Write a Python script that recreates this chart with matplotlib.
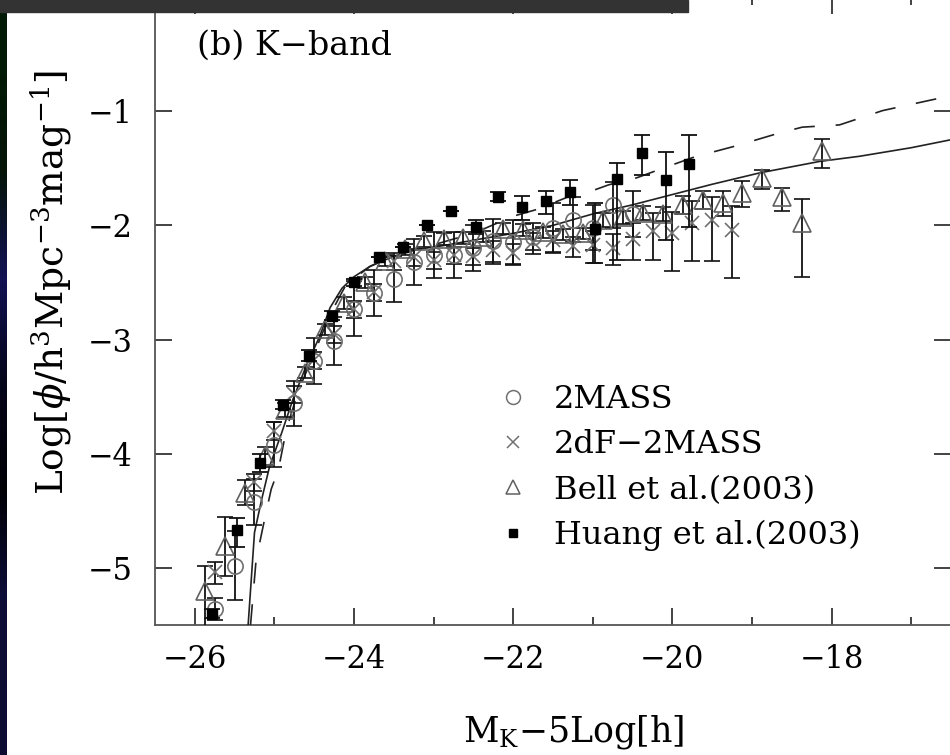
import numpy as np
import matplotlib
matplotlib.use('Agg')
import matplotlib.pyplot as plt
from matplotlib.lines import Line2D
from matplotlib.patches import Rectangle
from matplotlib.ticker import MultipleLocator, FixedLocator

plt.rcParams['font.family'] = ['DejaVu Serif']
plt.rcParams['mathtext.fontset'] = 'dejavuserif'
plt.rcParams['lines.scale_dashes'] = False

# model curves
solid_x = [-25.33, -25.25, -25.16, -25.06, -24.91, -24.77, -24.60, -24.43, -24.30, -24.15,
           -24.0, -23.8, -23.5, -23.2, -22.9, -22.5, -22.0, -21.5, -21.0, -20.5, -20.0,
           -19.5, -18.9, -18.15, -17.65, -17.0, -16.5]
solid_y = [-5.5, -4.69, -4.40, -4.11, -3.82, -3.53, -3.23, -2.97, -2.72, -2.55,
           -2.45, -2.36, -2.27, -2.21, -2.18, -2.13, -2.07, -2.0, -1.9, -1.82, -1.73,
           -1.64, -1.54, -1.44, -1.395, -1.32, -1.25]
dashed_x = [-25.30, -25.23, -25.14, -25.04, -24.95, -24.85, -24.7, -24.5, -24.3, -24.1,
            -23.8, -23.5, -23.0, -22.5, -22.0, -21.7, -21.29, -21.08, -20.8, -20.45,
            -20.16, -19.72, -19.18, -18.7, -18.37, -17.9, -17.36, -16.67, -16.5]
dashed_y = [-5.5, -4.93, -4.63, -4.31, -4.14, -3.79, -3.45, -3.12, -2.78, -2.52,
            -2.36, -2.26, -2.17, -2.07, -1.92, -1.86, -1.745, -1.715, -1.645, -1.584,
            -1.51, -1.40, -1.30, -1.20, -1.14, -1.12, -0.995, -0.89, -0.87]

# 2MASS (circles)
mass_x = [-25.75, -25.5, -25.25, -25.0, -24.75, -24.5, -24.25, -24.0, -23.75, -23.5, -23.25,
          -23.0, -22.75, -22.5, -22.25, -22.0, -21.75, -21.5, -21.25, -21.0, -20.75, -20.5]
mass_y = [-5.36, -4.98, -4.42, -3.92, -3.56, -3.19, -3.01, -2.73, -2.59, -2.47, -2.32,
          -2.26, -2.26, -2.20, -2.14, -2.15, -2.10, -2.02, -1.95, -2.02, -1.82, -1.90]
mass_e = [0.1, 0.3, 0.2, 0.2, 0.2, 0.2, 0.21, 0.24, 0.2, 0.2, 0.2,
          0.2, 0.2, 0.2, 0.2, 0.2, 0.12, 0.22, 0.2, 0.2, 0.2, 0.2]

# 2dF-2MASS (crosses)
tdf_x = [-25.75, -25.25, -25.0, -24.75, -24.5, -24.25, -24.0, -23.75, -23.5, -23.25, -23.0,
         -22.75, -22.5, -22.25, -22.0, -21.75, -21.5, -21.25, -21.0, -20.75, -20.5, -20.25,
         -20.0, -19.75, -19.5, -19.25]
tdf_y = [-5.04, -4.25, -3.80, -3.48, -3.18, -2.95, -2.73, -2.58, -2.31, -2.28, -2.30,
         -2.26, -2.27, -2.22, -2.24, -2.15, -2.13, -2.18, -2.17, -2.20, -2.12, -2.05,
         -2.07, -1.98, -1.95, -2.04]
tdf_lo = [0.1, 0.08, 0.08, 0.08, 0.08, 0.08, 0.08, 0.08, 0.08, 0.08, 0.08,
          0.08, 0.08, 0.1, 0.1, 0.1, 0.1, 0.1, 0.16, 0.15, 0.18, 0.25,
          0.33, 0.33, 0.36, 0.42]
tdf_hi = [0.09, 0.07, 0.08, 0.07, 0.07, 0.07, 0.07, 0.07, 0.07, 0.07, 0.07,
          0.07, 0.07, 0.08, 0.08, 0.08, 0.08, 0.08, 0.12, 0.12, 0.14, 0.16,
          0.19, 0.19, 0.2, 0.21]

# Bell et al. (triangles)
bell_x = [-25.87, -25.62, -25.37, -25.12, -24.87, -24.62, -24.37, -24.12, -23.86, -23.61,
          -23.36, -23.12, -22.87, -22.63, -22.38, -22.13, -21.88, -21.62, -21.37, -21.12,
          -20.87, -20.62, -20.37, -20.12, -19.87, -19.62, -19.37, -19.12, -18.87, -18.62,
          -18.37, -18.12]
bell_y = [-5.20, -4.81, -4.34, -4.02, -3.62, -3.29, -2.91, -2.68, -2.50, -2.31,
          -2.21, -2.14, -2.12, -2.11, -2.10, -2.03, -2.04, -2.06, -2.08, -2.07,
          -1.95, -1.93, -1.89, -1.90, -1.82, -1.78, -1.80, -1.715, -1.585, -1.75,
          -1.98, -1.35]
bell_lo = [0.4, 0.26, 0.11, 0.08, 0.06, 0.05, 0.05, 0.05, 0.05, 0.05,
           0.05, 0.05, 0.05, 0.05, 0.05, 0.05, 0.05, 0.05, 0.05, 0.05,
           0.06, 0.06, 0.06, 0.06, 0.08, 0.08, 0.12, 0.12, 0.1, 0.12,
           0.47, 0.15]
bell_hi = [0.22, 0.26, 0.11, 0.08, 0.06, 0.05, 0.05, 0.05, 0.05, 0.05,
           0.05, 0.05, 0.05, 0.05, 0.05, 0.05, 0.05, 0.05, 0.05, 0.05,
           0.06, 0.06, 0.06, 0.06, 0.08, 0.08, 0.1, 0.1, 0.07, 0.08,
           0.21, 0.11]

# Huang et al. (filled squares)
huang_x = [-25.79, -25.47, -25.18, -24.89, -24.56, -24.28, -24.0, -23.68, -23.38, -23.08,
           -22.78, -22.47, -22.19, -21.89, -21.59, -21.29, -20.97, -20.70, -20.38, -20.08,
           -19.79]
huang_y = [-5.40, -4.67, -4.08, -3.57, -3.14, -2.79, -2.50, -2.28, -2.19, -2.00,
           -1.87, -2.01, -1.75, -1.84, -1.79, -1.71, -2.03, -1.59, -1.365, -1.60,
           -1.46]
huang_lo = [0.04, 0.15, 0.08, 0.04, 0.05, 0.04, 0.03, 0.0, 0.0, 0.0,
            0.0, 0.07, 0.04, 0.11, 0.11, 0.11, 0.30, 0.71, 0.195, 0.53,
            0.55]
huang_hi = [0.04, 0.11, 0.08, 0.04, 0.05, 0.04, 0.03, 0.0, 0.0, 0.0,
            0.0, 0.06, 0.04, 0.095, 0.09, 0.11, 0.23, 0.14, 0.155, 0.24,
            0.25]

yticks = [-5, -4, -3, -2, -1]

fig = plt.figure(figsize=(9.5, 7.55), dpi=100)
ax = fig.add_axes([155 / 950, 130 / 755, 796 / 950, 628 / 755])

ax.plot(solid_x, solid_y, color='#222222', lw=1.2, zorder=3)
ax.plot(dashed_x, dashed_y, color='#222222', lw=1.2, dashes=(15, 15), zorder=3)

eb = dict(ecolor='#111111', elinewidth=1.3, capsize=5.5, capthick=1.3, ls='none')
ax.errorbar(mass_x, mass_y, yerr=mass_e, fmt='o', ms=11, mfc='none', mec='#707070',
            mew=1.2, zorder=4, **eb)
ax.errorbar(tdf_x, tdf_y, yerr=[tdf_lo, tdf_hi], fmt='x', ms=10, mec='#707070',
            mew=1.2, zorder=4, **eb)
ax.errorbar(bell_x, bell_y, yerr=[bell_lo, bell_hi], fmt='^', ms=12.5, mfc='none',
            mec='#606060', mew=1.2, zorder=4, **eb)
ax.errorbar(huang_x, huang_y, yerr=[huang_lo, huang_hi], fmt='s', ms=7, mfc='black',
            mec='black', zorder=5, **eb)

ax.set_xlim(-26.5, -16.5)
ax.set_ylim(-5.5, 0)
ax.xaxis.set_major_locator(MultipleLocator(2))
ax.xaxis.set_minor_locator(MultipleLocator(1))
ax.yaxis.set_major_locator(FixedLocator(yticks))
ax.tick_params(which='both', direction='in', top=True, right=True, color='#222222',
               width=1.2, labelsize=22)
ax.tick_params(which='major', length=12)
ax.tick_params(which='minor', length=6)
ax.tick_params(axis='x', pad=14)
ax.tick_params(axis='y', pad=16)
for s in ax.spines.values():
    s.set_color('#555555')
    s.set_linewidth(1.3)

ax.set_ylabel(r'Log[$\phi$/h$^3$Mpc$^{-3}$mag$^{-1}$]', fontsize=27)
ax.yaxis.set_label_coords(-0.102, 0.545)
ax.set_xlabel(r'M$_\mathrm{K}$$-$5Log[h]', fontsize=25)
ax.xaxis.set_label_coords(0.526, -0.14)

ax.text(0.053, 0.923, '(b) K\u2212band', transform=ax.transAxes, fontsize=24,
        va='center', ha='left')

handles = [
    Line2D([], [], ls='none', marker='o', ms=10, mfc='none', mec='#707070', mew=1.1),
    Line2D([], [], ls='none', marker='x', ms=8, mec='#707070', mew=1.1),
    Line2D([], [], ls='none', marker='^', ms=10, mfc='none', mec='#606060', mew=1.1),
    Line2D([], [], ls='none', marker='s', ms=6, mfc='black', mec='black'),
]
labels = ['2MASS', '2dF\u22122MASS', 'Bell et al.(2003)', 'Huang et al.(2003)']
ax.legend(handles, labels, loc='upper left', bbox_to_anchor=(0.431, 0.384),
          frameon=False, fontsize=23, handlelength=0.95, handletextpad=0.8,
          labelspacing=0.45, borderpad=0, borderaxespad=0)

# slide decorations: dark banner at top and coloured strip at left
fig.patches.append(Rectangle((0, 1 - 12 / 755), 688 / 950, 12 / 755,
                             transform=fig.transFigure, color='#333333', zorder=10))
strip = fig.add_axes([0, 0, 7 / 950, 1 - 12 / 755])
strip.axis('off')
grad = np.array([[0.05, 0.05, 0.20], [0.05, 0.05, 0.22], [0.0, 0.0, 0.02],
                 [0.02, 0.02, 0.10], [0.07, 0.07, 0.33], [0.02, 0.08, 0.03],
                 [0.01, 0.10, 0.02]])
strip.imshow(grad[:, None, :], aspect='auto', origin='lower', interpolation='bilinear',
             extent=[0, 1, 0, 1])

fig.savefig('out.png', dpi=100)
